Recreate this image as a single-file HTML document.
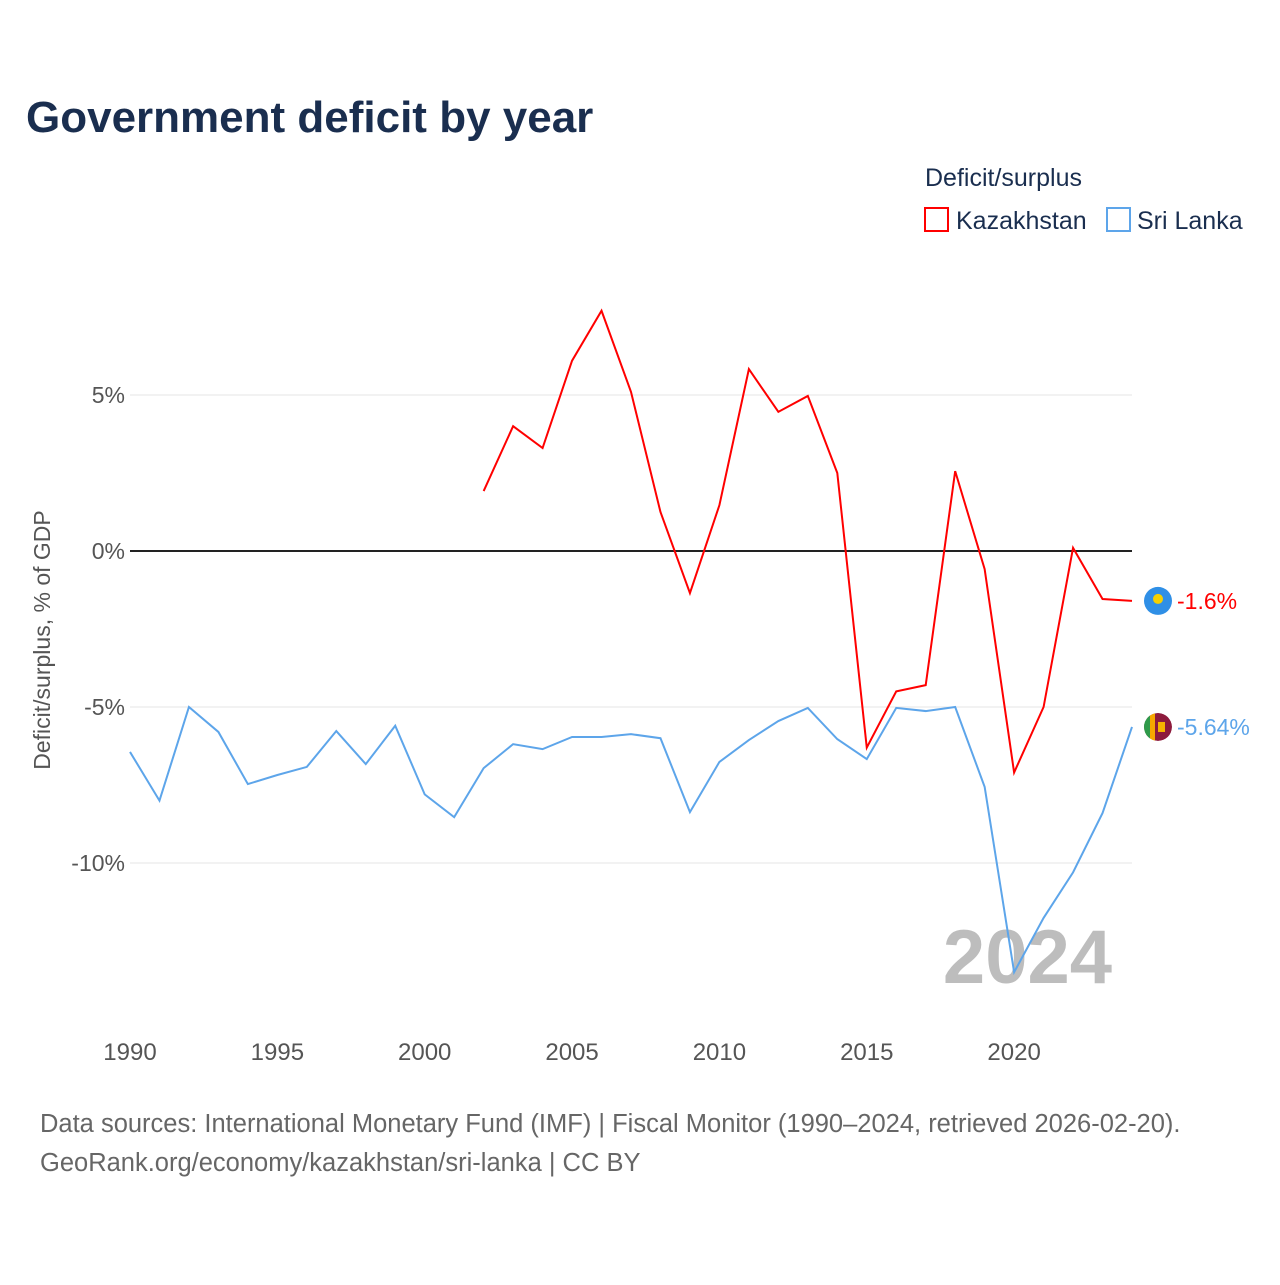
<!DOCTYPE html>
<html><head><meta charset="utf-8"><style>
body{margin:0;background:#fff;font-family:"Liberation Sans",sans-serif;}
</style></head><body>
<svg width="1280" height="1280" xmlns="http://www.w3.org/2000/svg" style="font-family:'Liberation Sans',sans-serif">
<defs><clipPath id="lkclip"><circle cx="1158" cy="727" r="14"/></clipPath></defs>
<text x="26" y="132" font-size="44" font-weight="bold" fill="#1a2e4f">Government deficit by year</text>
<text x="925" y="186" font-size="25" fill="#1a2e4f">Deficit/surplus</text>
<g><rect x="925" y="208" width="23" height="23" fill="none" stroke="#ff0000" stroke-width="2"/><text x="956" y="229" font-size="25" fill="#1a2e4f">Kazakhstan</text></g>
<g><rect x="1107" y="208" width="23" height="23" fill="none" stroke="#5da5ea" stroke-width="2"/><text x="1137" y="229" font-size="25" fill="#1a2e4f">Sri Lanka</text></g>
<g id="grid"></g>
<text x="1112" y="983" font-size="76" font-weight="bold" fill="#bdbdbd" text-anchor="end">2024</text>
<text transform="translate(50,640) rotate(-90)" font-size="23" fill="#555" text-anchor="middle">Deficit/surplus, % of GDP</text>
<g id="plot"></g>
<text x="40" y="1132" font-size="25.5" fill="#666">Data sources: International Monetary Fund (IMF) | Fiscal Monitor (1990–2024, retrieved 2026-02-20).</text>
<text x="40" y="1171" font-size="25.5" fill="#666">GeoRank.org/economy/kazakhstan/sri-lanka | CC BY</text>
</svg>
<script>
const years=[];for(let y=1990;y<=2024;y++)years.push(y);
const kazYears=[2002,2003,2004,2005,2006,2007,2008,2009,2010,2011,2012,2013,2014,2015,2016,2017,2018,2019,2020,2021,2022,2023,2024];
const kazValues=[1.92,4.0,3.3,6.1,7.7,5.1,1.25,-1.35,1.47,5.83,4.46,4.97,2.5,-6.3,-4.5,-4.3,2.56,-0.58,-7.1,-5.0,0.1,-1.54,-1.6];
const lkaValues=[-6.44,-8.0,-5.0,-5.8,-7.47,-7.18,-6.92,-5.77,-6.83,-5.6,-7.8,-8.53,-6.96,-6.19,-6.35,-5.96,-5.96,-5.87,-6.0,-8.37,-6.76,-6.06,-5.45,-5.03,-6.03,-6.67,-5.03,-5.13,-5.0,-7.56,-13.5,-11.76,-10.3,-8.4,-5.64];
const yTicks=[5,0,-5,-10];
const yTickLabels=["5%","0%","-5%","-10%"];
const xTicks=[1990,1995,2000,2005,2010,2015,2020];
const NS="http://www.w3.org/2000/svg";
const xs=y=>130+(y-1990)*(1132-130)/34;
const ys=v=>551-v*31.2;
const grid=document.getElementById('grid'),plot=document.getElementById('plot');
function mk(tag,attrs,parent){const e=document.createElementNS(NS,tag);for(const k in attrs)e.setAttribute(k,attrs[k]);parent.appendChild(e);return e;}
yTicks.forEach((t,i)=>{
 const l=mk('line',{x1:130,x2:1132,y1:ys(t),y2:ys(t),stroke:t===0?'#222':'#e6e6e6','stroke-width':t===0?2:1},grid);
 
 
 const tx=mk('text',{x:125,y:ys(t)+8,'font-size':23,fill:'#555','text-anchor':'end'},grid);tx.textContent=yTickLabels[i];
 
 
});
xTicks.forEach(t=>{
 const tx=mk('text',{x:xs(t),y:1060,'font-size':24,fill:'#555','text-anchor':'middle'},grid);tx.textContent=t;
 
 
});
const kp=mk('polyline',{points:kazYears.map((y,i)=>xs(y)+','+ys(kazValues[i])).join(' '),fill:'none',stroke:'#ff0000','stroke-width':2},plot);


const lp=mk('polyline',{points:years.map((y,i)=>xs(y)+','+ys(lkaValues[i])).join(' '),fill:'none',stroke:'#5da5ea','stroke-width':2},plot);


const kl=kazValues[kazValues.length-1],ll=lkaValues[lkaValues.length-1];
const kc=mk('circle',{cx:1158,cy:ys(kl),r:14,fill:'#2f8fe6'},plot);


mk('circle',{cx:1158,cy:ys(kl)-2,r:5,fill:'#f5d000'},plot);
const lg=mk('g',{'clip-path':'url(#lkclip)'},plot);
const lc=mk('circle',{cx:1158,cy:ys(ll),r:14,fill:'#8d1b3d'},lg);


mk('rect',{x:1144,y:ys(ll)-14,width:6,height:28,fill:'#2f9a4a'},lg);
mk('rect',{x:1150,y:ys(ll)-14,width:5,height:28,fill:'#f7a800'},lg);
mk('rect',{x:1158,y:ys(ll)-5,width:7,height:10,fill:'#f7b500'},lg);
const kt=mk('text',{x:1177,y:ys(kl)+8,'font-size':23,fill:'#ff0000'},plot);kt.textContent=kl+'%';


const lt=mk('text',{x:1177,y:ys(ll)+8,'font-size':23,fill:'#5da5ea'},plot);lt.textContent=ll+'%';


</script>
</body></html>
